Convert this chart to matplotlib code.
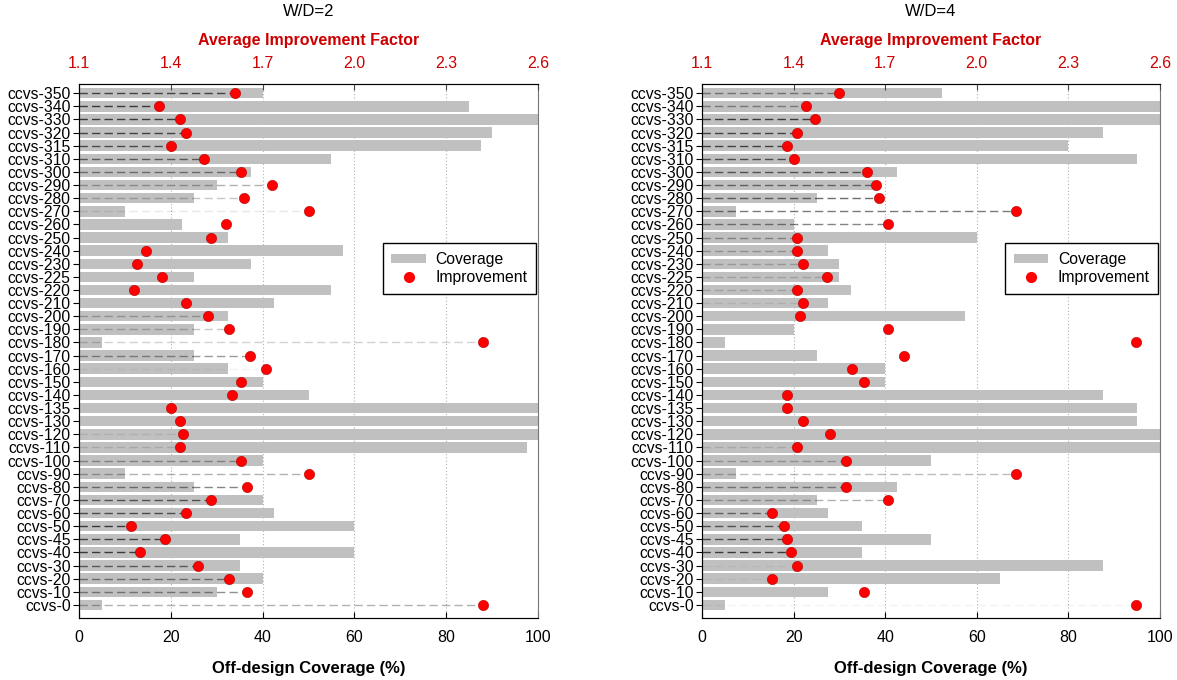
import numpy as np
import matplotlib
matplotlib.use('Agg')
import matplotlib.pyplot as plt
from matplotlib.patches import Patch
from matplotlib.lines import Line2D

plt.rcParams['font.family'] = ['Liberation Sans', 'DejaVu Sans']

# categories, top to bottom
cases = ['ccvs-350', 'ccvs-340', 'ccvs-330', 'ccvs-320', 'ccvs-315', 'ccvs-310',
         'ccvs-300', 'ccvs-290', 'ccvs-280', 'ccvs-270', 'ccvs-260', 'ccvs-250',
         'ccvs-240', 'ccvs-230', 'ccvs-225', 'ccvs-220', 'ccvs-210', 'ccvs-200',
         'ccvs-190', 'ccvs-180', 'ccvs-170', 'ccvs-160', 'ccvs-150', 'ccvs-140',
         'ccvs-135', 'ccvs-130', 'ccvs-120', 'ccvs-110', 'ccvs-100', 'ccvs-90',
         'ccvs-80', 'ccvs-70', 'ccvs-60', 'ccvs-50', 'ccvs-45', 'ccvs-40',
         'ccvs-30', 'ccvs-20', 'ccvs-10', 'ccvs-0']

# W/D=2
cov_wd2 = [40, 85, 100, 90, 87.5, 55, 37.5, 30, 25, 10, 22.5, 32.5, 57.5, 37.5, 25,
           55, 42.5, 32.5, 25, 5, 25, 32.5, 40, 50, 100, 100, 100, 97.5, 40, 10,
           25, 40, 42.5, 60, 35, 60, 35, 40, 30, 5]
imp_wd2 = [1.61, 1.36, 1.43, 1.45, 1.40, 1.51, 1.63, 1.73, 1.64, 1.85, 1.58, 1.53,
           1.32, 1.29, 1.37, 1.28, 1.45, 1.52, 1.59, 2.42, 1.66, 1.71, 1.63, 1.60,
           1.40, 1.43, 1.44, 1.43, 1.63, 1.85, 1.65, 1.53, 1.45, 1.27, 1.38, 1.30,
           1.49, 1.59, 1.65, 2.42]
# shade of the dashed leader line per row
shade_wd2 = [0.8, 0.85, 0.85, 0.8, 0.75, 0.65, 0.55, 0.35, 0.25, 0.1, 0, 0, 0, 0, 0,
             0, 0, 0.3, 0.25, 0.2, 0.45, 0.05, 0, 0, 0, 0, 0.1, 0.15, 0.4, 0.35,
             0.55, 0.7, 0.75, 0.85, 0.8, 0.85, 0.65, 0.55, 0.5, 0.35]

# W/D=4
cov_wd4 = [52.5, 100, 100, 87.5, 80, 95, 42.5, 37.5, 25, 7.5, 20, 60, 27.5, 30, 30,
           32.5, 27.5, 57.5, 20, 5, 25, 40, 40, 87.5, 95, 95, 100, 100, 50, 7.5,
           42.5, 25, 27.5, 35, 50, 35, 87.5, 65, 27.5, 5]
imp_wd4 = [1.55, 1.44, 1.47, 1.41, 1.38, 1.40, 1.64, 1.67, 1.68, 2.13, 1.71, 1.41,
           1.41, 1.43, 1.51, 1.41, 1.43, 1.42, 1.71, 2.52, 1.76, 1.59, 1.63, 1.38,
           1.38, 1.43, 1.52, 1.41, 1.57, 2.13, 1.57, 1.71, 1.33, 1.37, 1.38, 1.39,
           1.41, 1.33, 1.63, 2.52]
shade_wd4 = [0.5, 0.45, 0.85, 0.8, 0.8, 0.75, 0.7, 0.6, 0.65, 0.6, 0.55, 0.4, 0.3,
             0.25, 0.2, 0.2, 0.1, 0, 0, 0, 0, 0, 0, 0, 0, 0, 0, 0.15, 0.3, 0.3,
             0.5, 0.35, 0.6, 0.7, 0.75, 0.85, 0.05, 0.05, 0, 0.05]

cov_ticks = [0, 20, 40, 60, 80, 100]
imp_ticks = [1.1, 1.4, 1.7, 2.0, 2.3, 2.6]
RED = '#cc0000'

fig = plt.figure(figsize=(11.77, 6.8), dpi=100)


def panel(rect, title, cov, imp, shade):
    ax = fig.add_axes(rect)
    y = np.arange(len(cases))
    ax.barh(y, cov, height=0.8, color='#c0c0c0', zorder=2)
    ax.set_xlim(0, 100)
    ax.set_ylim(len(cases) - 1 + 1.0, -0.7)
    ax.set_yticks(y)
    ax.set_yticklabels(cases, fontsize=11.3)
    ax.set_xticks(cov_ticks)
    ax.tick_params(axis='x', direction='in', labelsize=11.5, length=4, pad=9)
    ax.tick_params(axis='y', direction='out', length=4, pad=2)
    ax.grid(axis='x', linestyle=(0, (1, 2)), color='#b0b0b0', linewidth=0.8)
    ax.set_axisbelow(True)
    ax.set_xlabel('Off-design Coverage (%)', fontsize=12, fontweight='bold', labelpad=11)
    ax.spines['right'].set_linestyle((0, (1.5, 1)))
    ax.spines['right'].set_color('#777777')
    for s in ['left', 'bottom', 'top']:
        ax.spines[s].set_color('#444444')

    ax2 = ax.twiny()
    ax2.set_xlim(1.1, 2.6)
    ax2.set_xticks(imp_ticks)
    ax2.set_xticklabels(['%.1f' % t for t in imp_ticks])
    ax2.tick_params(axis='x', direction='in', colors=RED, labelsize=11.5, length=4, pad=9)
    ax2.tick_params(axis='x', color='#444444')
    ax2.set_xlabel('Average Improvement Factor', fontsize=11.5, fontweight='bold',
                   color=RED, labelpad=8)
    ax2.spines['right'].set_visible(False)
    for yy, v, a in zip(y, imp, shade):
        if a > 0:
            ax2.plot([1.1, v], [yy, yy], color='#222222', alpha=a, lw=1.0,
                     dashes=(6, 3), zorder=3)
    ax2.scatter(imp, y, s=55, color='#ff0000', edgecolor='#b00000',
                linewidth=0.4, zorder=4)
    ax2.set_ylim(ax.get_ylim())

    handles = [Patch(facecolor='#c0c0c0', edgecolor='none'),
               Line2D([], [], marker='o', color='#ff0000', linestyle='none',
                      markersize=7)]
    leg = ax2.legend(handles, ['Coverage', 'Improvement'], loc='upper left',
                     bbox_to_anchor=(0.662, 0.702), borderaxespad=0, fontsize=11.3,
                     fancybox=False, framealpha=1, edgecolor='black', handlelength=2.2,
                     handleheight=0.5, handletextpad=0.6, borderpad=0.55,
                     labelspacing=0.2)
    leg.get_frame().set_linewidth(1.0)

    cx = rect[0] + rect[2] / 2
    fig.text(cx, 1 - 12 / 680, title, ha='center', va='center', fontsize=12)


panel([79 / 1177, 62 / 680, 459 / 1177, 534 / 680], 'W/D=2', cov_wd2, imp_wd2, shade_wd2)
panel([702 / 1177, 62 / 680, 458 / 1177, 534 / 680], 'W/D=4', cov_wd4, imp_wd4, shade_wd4)

fig.savefig('out.png', dpi=100)
